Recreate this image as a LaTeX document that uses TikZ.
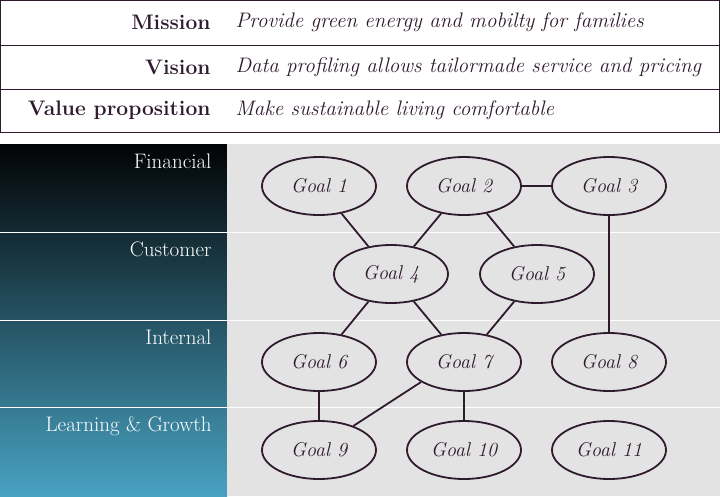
\documentclass[tikz,border=0pt]{standalone}
\usetikzlibrary{positioning}
\definecolor{plum}{HTML}{2E1B2E}
\definecolor{panel}{HTML}{E4E3E4}
\definecolor{topcol}{HTML}{020304}
\definecolor{botcol}{HTML}{48A2C2}
\tikzset{
  goal/.style={ellipse, draw=plum, line width=1.8pt, fill=panel, minimum width=114pt, minimum height=58pt, font=\itshape\fontsize{20}{24}\selectfont, text=plum},
  link/.style={draw=plum, line width=1.8pt},
  head/.style={anchor=east, font=\bfseries\fontsize{21}{25}\selectfont, text=plum},
  claim/.style={anchor=west, font=\itshape\fontsize{21}{25}\selectfont, text=plum},
  persp/.style={anchor=north east, font=\fontsize{21}{25}\selectfont, text=white}
}
\usetikzlibrary{shapes.geometric}
\begin{document}
\begin{tikzpicture}[x=1pt,y=-1pt]
  \useasboundingbox (0,0) rectangle (720,496);
  % Statement table
  \draw[plum, line width=1pt] (0.5,0.5) rectangle (719.5,132);
  \draw[plum, line width=1pt] (0,45) -- (720,45) (0,89) -- (720,89);
  \node[head] (mission) at (214,22) {Mission};
  \node[head] (vision) at (214,67) {Vision};
  \node[head] (value) at (214,110) {Value proposition};
  \node[claim] (missiontxt) at (232,22) {Provide green energy and mobilty for families};
  \node[claim] (visiontxt) at (232,67) {Data profiling allows tailormade service and pricing};
  \node[claim] (valuetxt) at (232,110) {Make sustainable living comfortable};
  % Perspectives
  \shade[top color=topcol, bottom color=botcol] (0,144) rectangle (227,496);
  \fill[panel] (227,144) rectangle (720,496);
  \foreach \y in {232,320,407}
    \draw[white, line width=1pt] (0,\y) -- (720,\y);
  \node[persp] (financial) at (215,150) {Financial};
  \node[persp] (customer) at (215,238) {Customer};
  \node[persp] (internal) at (215,326) {Internal};
  \node[persp] (learning) at (215,413) {Learning \& Growth};
  % Goals
  \node[goal] (g1) at (319,186) {Goal 1};
  \node[goal] (g2) at (464,186) {Goal 2};
  \node[goal] (g3) at (609,186) {Goal 3};
  \node[goal] (g4) at (391,274) {Goal 4};
  \node[goal] (g5) at (537,274) {Goal 5};
  \node[goal] (g6) at (319,362) {Goal 6};
  \node[goal] (g7) at (464,362) {Goal 7};
  \node[goal] (g8) at (609,362) {Goal 8};
  \node[goal] (g9) at (319,450) {Goal 9};
  \node[goal] (g10) at (464,450) {Goal 10};
  \node[goal] (g11) at (609,450) {Goal 11};
  % Links
  \foreach \a/\b in {g1/g4, g2/g4, g2/g5, g2/g3, g3/g8, g4/g6, g4/g7, g5/g7, g6/g9, g7/g10}
    \draw[link] (\a) -- (\b);
  \draw[link] (g7.205) -- (g9.35);
\end{tikzpicture}
\end{document}
